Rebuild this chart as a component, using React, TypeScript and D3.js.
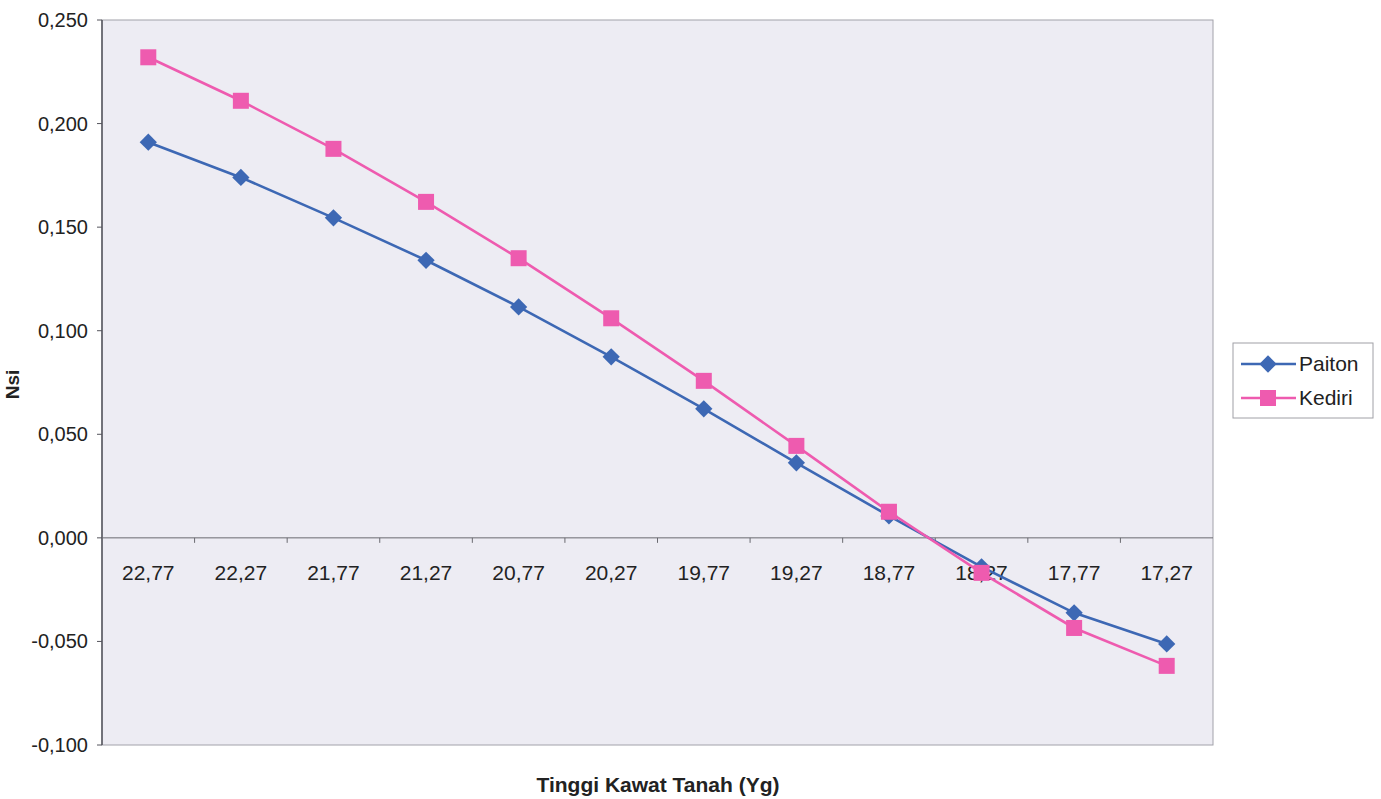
import React, { useEffect, useRef } from "react";
import * as d3 from "d3";

const categories = ["22,77", "22,27", "21,77", "21,27", "20,77", "20,27", "19,77", "19,27", "18,77", "18,27", "17,77", "17,27"];
const paiton = [0.191, 0.174, 0.1545, 0.134, 0.1115, 0.0874, 0.0623, 0.0362, 0.0106, -0.014, -0.0362, -0.0512];
const kediri = [0.232, 0.211, 0.1878, 0.1622, 0.135, 0.106, 0.0758, 0.0444, 0.0126, -0.0169, -0.0435, -0.0618];
const yTicks = [-0.1, -0.05, 0, 0.05, 0.1, 0.15, 0.2, 0.25];

const W = 1381;
const H = 799;
const plot = { left: 102, top: 20, right: 1213, bottom: 745 };
const BLUE = "#3D68B4";
const PINK = "#EE5BAF";
const FONT = "'Liberation Sans', Arial, sans-serif";

export default function App() {
  const ref = useRef<SVGSVGElement>(null);

  useEffect(() => {
    const svg = d3.select(ref.current);
    svg.selectAll("*").remove();

    const x = d3.scaleBand<string>().domain(categories).range([plot.left, plot.right]);
    const y = d3.scaleLinear().domain([-0.1, 0.25]).range([plot.bottom, plot.top]);
    const fmt = (v: number) => d3.format(".3f")(v).replace(".", ",").replace("−", "-");

    // plot background
    svg.append("rect")
      .attr("x", plot.left).attr("y", plot.top)
      .attr("width", plot.right - plot.left).attr("height", plot.bottom - plot.top)
      .attr("fill", "#EDECF3").attr("stroke", "#A2A2AA").attr("stroke-width", 1);

    // y axis
    svg.append("line")
      .attr("x1", plot.left).attr("x2", plot.left)
      .attr("y1", plot.top).attr("y2", plot.bottom)
      .attr("stroke", "#55555C").attr("stroke-width", 1.5);
    const yg = svg.append("g");
    yTicks.forEach((t) => {
      yg.append("line")
        .attr("x1", plot.left - 5).attr("x2", plot.left)
        .attr("y1", y(t)).attr("y2", y(t))
        .attr("stroke", "#55555C");
      yg.append("text")
        .attr("x", 88).attr("y", y(t)).attr("dy", "0.35em")
        .attr("text-anchor", "end")
        .attr("font-family", FONT).attr("font-size", 20).attr("fill", "#222")
        .text(t === 0 ? "0,000" : fmt(t));
    });

    // x axis at zero
    svg.append("line")
      .attr("x1", plot.left).attr("x2", plot.right)
      .attr("y1", y(0)).attr("y2", y(0))
      .attr("stroke", "#6A6A70").attr("stroke-width", 1);
    categories.forEach((c, i) => {
      if (i > 0) {
        svg.append("line")
          .attr("x1", x(c)!).attr("x2", x(c)!)
          .attr("y1", y(0)).attr("y2", y(0) + 5)
          .attr("stroke", "#6A6A70");
      }
      svg.append("text")
        .attr("x", x(c)! + x.bandwidth() / 2).attr("y", y(0) + 42)
        .attr("text-anchor", "middle")
        .attr("font-family", FONT).attr("font-size", 21).attr("fill", "#222")
        .text(c);
    });

    const cx = (i: number) => x(categories[i])! + x.bandwidth() / 2;
    const line = d3.line<number>().x((_, i) => cx(i)).y((d) => y(d));

    // Paiton
    svg.append("path").attr("d", line(paiton)).attr("fill", "none")
      .attr("stroke", BLUE).attr("stroke-width", 2.6);
    svg.append("g").selectAll("path").data(paiton).join("path")
      .attr("d", d3.symbol(d3.symbolDiamond2, 190)() as string)
      .attr("transform", (d, i) => `translate(${cx(i)},${y(d)})`)
      .attr("fill", BLUE);

    // Kediri
    svg.append("path").attr("d", line(kediri)).attr("fill", "none")
      .attr("stroke", PINK).attr("stroke-width", 2.6);
    svg.append("g").selectAll("rect").data(kediri).join("rect")
      .attr("x", (d, i) => cx(i) - 8).attr("y", (d) => y(d) - 8)
      .attr("width", 16).attr("height", 16)
      .attr("fill", PINK);

    // axis titles
    svg.append("text")
      .attr("x", 658).attr("y", 792)
      .attr("text-anchor", "middle")
      .attr("font-family", FONT).attr("font-size", 21).attr("font-weight", "bold").attr("fill", "#222")
      .text("Tinggi Kawat Tanah (Yg)");
    svg.append("text")
      .attr("transform", `translate(19,${(plot.top + plot.bottom) / 2 + 2}) rotate(-90)`)
      .attr("text-anchor", "middle")
      .attr("font-family", FONT).attr("font-size", 19).attr("font-weight", "bold").attr("fill", "#222")
      .text("Nsi");

    // legend
    const lg = svg.append("g").attr("transform", "translate(1233,343)");
    lg.append("rect").attr("width", 140).attr("height", 75)
      .attr("fill", "#fff").attr("stroke", "#A0A0A6");
    const items = [
      { name: "Paiton", color: BLUE, shape: "diamond" },
      { name: "Kediri", color: PINK, shape: "square" },
    ];
    items.forEach((it, i) => {
      const yy = 21 + i * 34;
      lg.append("line").attr("x1", 8).attr("x2", 63).attr("y1", yy).attr("y2", yy)
        .attr("stroke", it.color).attr("stroke-width", 2.6);
      if (it.shape === "diamond") {
        lg.append("path").attr("d", d3.symbol(d3.symbolDiamond2, 190)() as string)
          .attr("transform", `translate(35,${yy})`).attr("fill", it.color);
      } else {
        lg.append("rect").attr("x", 27).attr("y", yy - 8).attr("width", 16).attr("height", 16)
          .attr("fill", it.color);
      }
      lg.append("text").attr("x", 66).attr("y", yy).attr("dy", "0.35em")
        .attr("font-family", FONT).attr("font-size", 21).attr("fill", "#222")
        .text(it.name);
    });
  }, []);

  return <svg ref={ref} width={W} height={H} style={{ position: "absolute", left: 0, top: 0, background: "#fff" }} />;
}
